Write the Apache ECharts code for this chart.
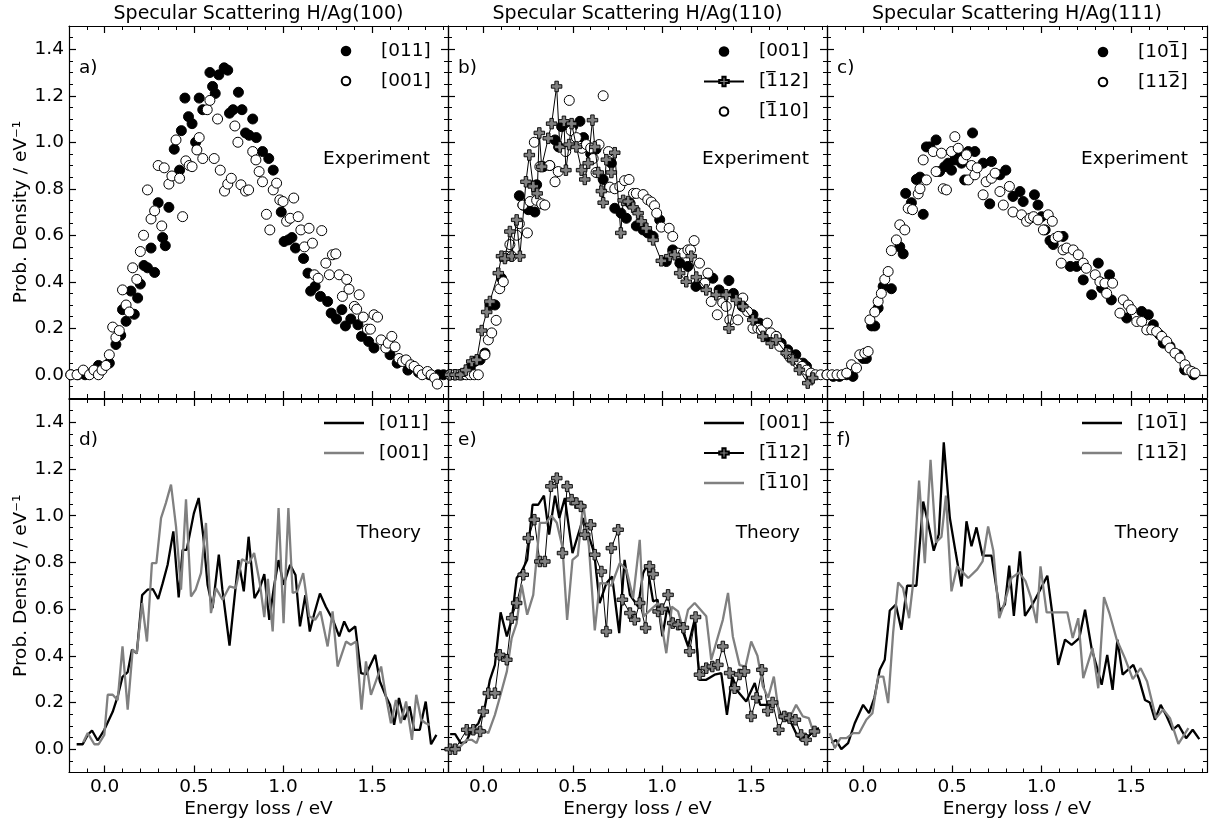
<!DOCTYPE html>
<html><head><meta charset="utf-8">
<script src="https://cdn.jsdelivr.net/npm/echarts@6/dist/echarts.min.js"></script>
<style>html,body{margin:0;padding:0;background:#fff}#c{width:1213px;height:820px}</style>
</head><body><div id="c"></div><script>
// ---------- tick labels / texts ----------
const xMajor = [0, 0.5, 1.0, 1.5];
const yMajor = [0, 0.2, 0.4, 0.6, 0.8, 1.0, 1.2, 1.4];
const panelTitles = ['Specular Scattering H/Ag(100)', 'Specular Scattering H/Ag(110)', 'Specular Scattering H/Ag(111)'];
const panelLabels = ['a)', 'b)', 'c)', 'd)', 'e)', 'f)'];
const yName = 'Prob. Density / eV\u207B\u00B9';
const xName = 'Energy loss / eV';
// legend labels (overlined digits drawn with a zero-width overline fragment)
const OVL = '{ov|\u203E}';
const legendLabels = {
  '[011]': '[011]', '[001]': '[001]',
  '[-112]': '[' + OVL + '112]', '[-110]': '[' + OVL + '110]',
  '[10-1]': '[10' + OVL + '1]', '[11-2]': '[11' + OVL + '2]'
};

// ---------- data: [energy loss, probability density] ----------
const a011 = [[-0.19,0],[-0.15,0],[-0.11,0],[-0.07,0.01],[-0.035,0.04],[0.026,0.05],[0.063,0.13],[0.09,0.17],[0.10,0.28],[0.12,0.23],[0.147,0.36],[0.166,0.26],[0.185,0.33],[0.20,0.39],[0.22,0.47],[0.24,0.46],[0.26,0.545],[0.28,0.44],[0.30,0.74],[0.325,0.59],[0.34,0.555],[0.36,0.72],[0.39,0.97],[0.42,0.88],[0.43,1.05],[0.45,1.19],[0.47,1.11],[0.49,1.08],[0.51,1.0],[0.53,1.19],[0.55,1.14],[0.59,1.30],[0.605,1.24],[0.62,1.21],[0.64,1.29],[0.67,1.32],[0.69,1.31],[0.70,1.125],[0.72,1.14],[0.75,1.215],[0.77,1.14],[0.79,1.04],[0.81,1.03],[0.83,1.10],[0.85,1.02],[0.885,0.96],[0.92,0.93],[0.945,0.88],[0.99,0.70],[1.006,0.573],[1.03,0.58],[1.05,0.59],[1.07,0.545],[1.115,0.50],[1.14,0.437],[1.155,0.36],[1.18,0.38],[1.21,0.337],[1.25,0.315],[1.27,0.265],[1.30,0.24],[1.33,0.28],[1.35,0.21],[1.38,0.24],[1.42,0.215],[1.44,0.165],[1.48,0.143],[1.51,0.115],[1.60,0.086],[1.64,0.05],[1.70,0.02],[1.76,0.01],[1.82,0],[1.87,0],[1.90,0]];
const a001 = [[-0.19,0],[-0.155,0],[-0.12,0.02],[-0.085,0],[-0.06,0.02],[-0.035,0],[-0.015,0.02],[0.007,0.04],[0.026,0.086],[0.045,0.205],[0.063,0.16],[0.082,0.19],[0.10,0.365],[0.12,0.30],[0.138,0.27],[0.157,0.46],[0.18,0.41],[0.20,0.53],[0.218,0.60],[0.24,0.795],[0.26,0.67],[0.28,0.705],[0.30,0.90],[0.32,0.64],[0.334,0.89],[0.36,0.82],[0.377,0.855],[0.40,1.01],[0.42,0.845],[0.437,0.68],[0.455,0.92],[0.474,0.90],[0.49,0.895],[0.517,0.967],[0.53,1.02],[0.55,0.93],[0.575,1.14],[0.59,1.18],[0.614,0.93],[0.633,1.10],[0.648,0.88],[0.672,0.79],[0.69,0.82],[0.71,0.845],[0.73,1.07],[0.747,1.00],[0.764,0.817],[0.79,0.79],[0.807,0.795],[0.83,0.96],[0.848,0.924],[0.866,0.874],[0.885,0.83],[0.907,0.69],[0.926,0.623],[0.945,0.795],[0.964,0.824],[0.982,0.752],[1.0,0.745],[1.02,0.66],[1.04,0.673],[1.06,0.76],[1.085,0.68],[1.10,0.623],[1.12,0.55],[1.146,0.63],[1.165,0.566],[1.176,0.43],[1.197,0.415],[1.217,0.62],[1.24,0.48],[1.26,0.43],[1.277,0.516],[1.296,0.52],[1.315,0.43],[1.333,0.337],[1.357,0.41],[1.37,0.368],[1.40,0.294],[1.413,0.282],[1.427,0.344],[1.45,0.248],[1.473,0.196],[1.49,0.196],[1.51,0.258],[1.53,0.248],[1.55,0.15],[1.576,0.115],[1.59,0.136],[1.61,0.165],[1.628,0.12],[1.65,0.07],[1.67,0.057],[1.69,0.064],[1.716,0.043],[1.735,0.036],[1.76,0.019],[1.78,0],[1.81,0.014],[1.83,0],[1.85,-0.014],[1.865,-0.04]];
const b001 = [[-0.19,0],[-0.16,0],[-0.13,0],[-0.1,0.01],[-0.075,0.03],[-0.05,0.057],[-0.02,0.064],[0.007,0.093],[0.035,0.30],[0.063,0.30],[0.10,0.415],[0.20,0.77],[0.22,0.73],[0.25,0.71],[0.287,0.70],[0.297,0.817],[0.334,0.895],[0.371,0.90],[0.40,1.01],[0.42,0.98],[0.437,1.067],[0.465,1.075],[0.483,1.067],[0.50,1.07],[0.54,1.09],[0.56,1.02],[0.60,0.95],[0.63,0.97],[0.67,0.84],[0.716,0.91],[0.735,0.716],[0.77,0.695],[0.80,0.673],[0.82,0.738],[0.856,0.64],[0.894,0.623],[0.92,0.61],[0.95,0.595],[0.987,0.666],[1.024,0.487],[1.06,0.537],[1.10,0.48],[1.145,0.466],[1.19,0.38],[1.23,0.387],[1.27,0.42],[1.285,0.415],[1.32,0.365],[1.375,0.405],[1.40,0.35],[1.45,0.294],[1.51,0.258],[1.547,0.222],[1.59,0.165],[1.64,0.165],[1.668,0.136],[1.705,0.107],[1.75,0.086],[1.79,0.05],[1.81,0.036],[1.835,0]];
const b112 = [[-0.19,0],[-0.16,0],[-0.13,0],[-0.1,0.02],[-0.067,0.057],[-0.039,0.064],[-0.011,0.19],[0.017,0.27],[0.035,0.315],[0.082,0.437],[0.10,0.51],[0.119,0.50],[0.147,0.616],[0.157,0.51],[0.185,0.666],[0.203,0.51],[0.237,0.83],[0.256,0.945],[0.278,0.81],[0.30,0.78],[0.312,1.04],[0.325,0.895],[0.362,1.017],[0.381,1.08],[0.409,1.24],[0.427,0.98],[0.45,1.09],[0.461,0.88],[0.479,0.99],[0.493,1.08],[0.52,0.98],[0.549,0.88],[0.567,0.84],[0.586,0.91],[0.61,1.095],[0.623,0.98],[0.642,0.87],[0.66,0.79],[0.67,0.74],[0.688,0.925],[0.716,0.87],[0.735,0.955],[0.769,0.61],[0.782,0.75],[0.81,0.745],[0.838,0.72],[0.866,0.695],[0.884,0.66],[0.912,0.63],[0.95,0.58],[0.996,0.49],[1.043,0.51],[1.071,0.516],[1.099,0.437],[1.136,0.40],[1.164,0.51],[1.192,0.42],[1.248,0.365],[1.304,0.344],[1.36,0.344],[1.375,0.20],[1.416,0.322],[1.453,0.294],[1.509,0.236],[1.565,0.165],[1.612,0.136],[1.64,0.15],[1.696,0.093],[1.733,0.064],[1.77,0.021],[1.817,-0.036],[1.845,-0.014]];
const b110 = [[-0.188,0],[-0.165,0],[-0.142,0],[-0.12,0],[-0.097,0],[-0.075,0],[-0.052,0],[-0.03,0],[0.007,0.086],[0.026,0.15],[0.045,0.18],[0.07,0.234],[0.09,0.37],[0.11,0.40],[0.125,0.51],[0.147,0.56],[0.157,0.51],[0.185,0.60],[0.20,0.65],[0.22,0.73],[0.245,0.61],[0.26,0.745],[0.284,1.0],[0.297,0.75],[0.315,0.895],[0.325,0.735],[0.343,0.73],[0.37,0.90],[0.40,0.83],[0.418,0.874],[0.46,0.96],[0.48,1.18],[0.49,1.05],[0.52,1.02],[0.55,0.974],[0.576,0.99],[0.60,0.975],[0.614,0.93],[0.63,0.87],[0.647,0.99],[0.67,1.20],[0.70,0.96],[0.707,0.807],[0.735,0.80],[0.763,0.81],[0.79,0.835],[0.815,0.84],[0.84,0.78],[0.856,0.78],[0.894,0.775],[0.92,0.753],[0.94,0.743],[0.958,0.727],[0.97,0.695],[0.996,0.635],[1.04,0.63],[1.06,0.595],[1.09,0.523],[1.12,0.523],[1.145,0.537],[1.16,0.537],[1.18,0.577],[1.21,0.48],[1.24,0.394],[1.257,0.437],[1.276,0.315],[1.31,0.258],[1.34,0.31],[1.36,0.294],[1.38,0.236],[1.425,0.236],[1.453,0.33],[1.48,0.272],[1.51,0.2],[1.537,0.2],[1.556,0.193],[1.59,0.222],[1.61,0.18],[1.64,0.165],[1.66,0.122],[1.70,0.093],[1.72,0.072],[1.76,0.05],[1.785,0.036],[1.81,0.02],[1.835,0.007],[1.86,0],[1.89,0]];
const c101 = [[-0.2,0],[-0.165,-0.007],[-0.13,-0.007],[-0.09,0],[-0.055,-0.007],[0.002,0.07],[0.02,0.07],[0.05,0.21],[0.067,0.21],[0.086,0.287],[0.114,0.38],[0.16,0.37],[0.207,0.55],[0.226,0.52],[0.24,0.78],[0.272,0.74],[0.30,0.84],[0.32,0.85],[0.338,0.69],[0.356,0.98],[0.375,0.98],[0.41,1.01],[0.43,0.874],[0.458,0.895],[0.478,0.91],[0.496,0.88],[0.515,0.924],[0.534,0.94],[0.552,0.91],[0.57,0.838],[0.59,0.96],[0.614,1.04],[0.627,0.96],[0.673,0.91],[0.71,0.735],[0.72,0.917],[0.767,0.86],[0.80,0.88],[0.84,0.767],[0.879,0.788],[0.897,0.745],[0.96,0.774],[0.98,0.73],[1.0,0.68],[1.02,0.623],[1.047,0.577],[1.065,0.56],[1.12,0.595],[1.16,0.466],[1.196,0.466],[1.233,0.408],[1.28,0.344],[1.317,0.48],[1.336,0.373],[1.38,0.43],[1.39,0.322],[1.476,0.244],[1.56,0.272],[1.597,0.258],[1.625,0.215],[1.66,0.172],[1.68,0.136],[1.718,0.122],[1.765,0.086],[1.80,0.021],[1.85,0]];
const c112 = [[-0.2,0],[-0.172,0],[-0.144,0],[-0.116,0],[-0.09,0.007],[-0.063,0.043],[-0.035,0.029],[-0.017,0.086],[0.011,0.093],[0.03,0.10],[0.04,0.236],[0.067,0.27],[0.086,0.315],[0.104,0.35],[0.123,0.41],[0.142,0.444],[0.16,0.534],[0.188,0.58],[0.207,0.645],[0.235,0.623],[0.254,0.716],[0.278,0.71],[0.31,0.778],[0.32,0.80],[0.338,0.924],[0.356,0.838],[0.394,0.96],[0.41,0.874],[0.44,0.953],[0.45,0.80],[0.468,0.795],[0.496,0.96],[0.515,1.024],[0.534,0.974],[0.56,0.924],[0.58,0.946],[0.59,0.838],[0.608,0.90],[0.627,0.86],[0.64,0.89],[0.673,0.774],[0.69,0.83],[0.72,0.845],[0.74,0.867],[0.767,0.788],[0.786,0.73],[0.82,0.81],[0.84,0.70],[0.888,0.688],[0.916,0.66],[0.935,0.673],[0.955,0.68],[0.98,0.666],[1.01,0.623],[1.037,0.688],[1.06,0.66],[1.075,0.587],[1.093,0.595],[1.11,0.48],[1.12,0.537],[1.14,0.545],[1.177,0.537],[1.205,0.516],[1.233,0.48],[1.25,0.458],[1.30,0.43],[1.326,0.40],[1.354,0.394],[1.364,0.35],[1.397,0.394],[1.438,0.265],[1.457,0.322],[1.485,0.30],[1.503,0.28],[1.532,0.229],[1.56,0.229],[1.588,0.193],[1.616,0.193],[1.643,0.186],[1.672,0.165],[1.70,0.143],[1.718,0.115],[1.746,0.093],[1.774,0.072],[1.802,0.043],[1.82,0.021],[1.84,0.014],[1.858,0.007]];
const d011 = [[-0.157,0.021],[-0.123,0.021],[-0.095,0.061],[-0.071,0.08],[-0.039,0.037],[-0.002,0.083],[0.045,0.16],[0.073,0.226],[0.10,0.31],[0.129,0.33],[0.153,0.426],[0.18,0.41],[0.21,0.66],[0.24,0.683],[0.27,0.686],[0.30,0.643],[0.325,0.71],[0.353,0.79],[0.385,0.933],[0.415,0.65],[0.437,0.854],[0.46,0.854],[0.50,1.01],[0.527,1.076],[0.553,0.911],[0.577,0.704],[0.605,0.604],[0.64,0.833],[0.66,0.683],[0.70,0.444],[0.75,0.81],[0.78,0.676],[0.807,0.91],[0.84,0.647],[0.867,0.683],[0.895,0.75],[0.923,0.554],[0.95,0.70],[0.975,0.81],[1.003,0.704],[1.04,0.79],[1.07,0.746],[1.095,0.526],[1.125,0.66],[1.15,0.504],[1.175,0.58],[1.207,0.667],[1.24,0.61],[1.28,0.554],[1.315,0.483],[1.343,0.547],[1.37,0.504],[1.405,0.526],[1.437,0.326],[1.465,0.32],[1.517,0.404],[1.543,0.29],[1.577,0.226],[1.60,0.19],[1.623,0.104],[1.65,0.219],[1.68,0.126],[1.71,0.183],[1.735,0.083],[1.767,0.083],[1.80,0.204],[1.83,0.021],[1.86,0.061]];
const d001 = [[-0.12,0.03],[-0.095,0.069],[-0.058,0.021],[-0.034,0.021],[-0.002,0.061],[0.017,0.233],[0.045,0.233],[0.073,0.21],[0.10,0.44],[0.129,0.169],[0.157,0.426],[0.18,0.41],[0.21,0.626],[0.237,0.461],[0.265,0.797],[0.29,0.797],[0.316,0.99],[0.343,1.054],[0.372,1.133],[0.40,0.954],[0.428,0.683],[0.456,1.07],[0.484,0.654],[0.51,0.683],[0.54,0.754],[0.568,0.969],[0.596,0.583],[0.624,0.69],[0.661,0.64],[0.70,0.697],[0.735,0.69],[0.77,0.814],[0.81,0.797],[0.838,0.84],[0.87,0.711],[0.895,0.566],[0.915,0.73],[0.942,0.504],[0.975,1.033],[1.003,0.54],[1.03,1.033],[1.054,0.669],[1.08,0.676],[1.113,0.754],[1.147,0.569],[1.18,0.554],[1.21,0.59],[1.25,0.44],[1.278,0.59],[1.306,0.354],[1.353,0.461],[1.38,0.447],[1.41,0.461],[1.44,0.169],[1.465,0.376],[1.493,0.233],[1.55,0.354],[1.577,0.226],[1.605,0.111],[1.633,0.211],[1.66,0.111],[1.69,0.204],[1.723,0.04],[1.747,0.233],[1.775,0.126],[1.80,0.111],[1.823,0.104]];
const e001 = [[-0.188,0.064],[-0.16,0.064],[-0.14,0.04],[-0.13,0.026],[-0.1,0.03],[-0.067,0.083],[-0.03,0.11],[0.007,0.183],[0.035,0.297],[0.063,0.361],[0.095,0.586],[0.13,0.483],[0.157,0.554],[0.185,0.733],[0.213,0.761],[0.244,0.811],[0.274,1.047],[0.306,1.047],[0.338,1.086],[0.367,0.919],[0.40,1.086],[0.424,0.99],[0.455,1.076],[0.498,0.84],[0.558,0.99],[0.595,0.90],[0.62,0.84],[0.65,0.626],[0.688,0.711],[0.72,0.74],[0.76,0.497],[0.79,0.811],[0.82,0.661],[0.866,0.611],[0.894,0.754],[0.916,0.79],[0.95,0.633],[0.975,0.64],[1.002,0.483],[1.03,0.61],[1.06,0.54],[1.10,0.54],[1.146,0.44],[1.183,0.554],[1.21,0.297],[1.248,0.297],[1.295,0.319],[1.332,0.326],[1.364,0.147],[1.394,0.311],[1.425,0.247],[1.472,0.204],[1.52,0.283],[1.55,0.19],[1.593,0.19],[1.64,0.20],[1.677,0.126],[1.72,0.12],[1.76,0.054],[1.81,0.047],[1.855,0.083],[1.88,0.09]];
const e112 = [[-0.188,0],[-0.16,0],[-0.095,0.083],[-0.058,0.083],[-0.02,0.076],[-0.002,0.161],[0.026,0.24],[0.063,0.24],[0.09,0.404],[0.13,0.383],[0.157,0.561],[0.185,0.626],[0.222,0.747],[0.25,0.904],[0.284,0.983],[0.315,0.804],[0.343,0.804],[0.377,1.126],[0.41,1.161],[0.442,0.84],[0.468,1.126],[0.493,1.069],[0.52,1.054],[0.545,1.04],[0.567,0.919],[0.60,0.961],[0.623,0.833],[0.66,0.761],[0.688,0.504],[0.716,0.861],[0.754,0.94],[0.778,0.64],[0.82,0.583],[0.847,0.554],[0.875,0.626],[0.908,0.519],[0.93,0.783],[0.95,0.75],[0.978,0.59],[1.0,0.60],[1.034,0.661],[1.06,0.54],[1.09,0.533],[1.12,0.52],[1.155,0.419],[1.188,0.566],[1.21,0.319],[1.248,0.347],[1.282,0.354],[1.313,0.361],[1.341,0.44],[1.379,0.326],[1.407,0.261],[1.435,0.32],[1.463,0.333],[1.50,0.14],[1.53,0.22],[1.56,0.34],[1.593,0.164],[1.62,0.20],[1.655,0.083],[1.685,0.14],[1.715,0.133],[1.748,0.126],[1.78,0.061],[1.808,0.04],[1.855,0.076]];
const e110 = [[-0.188,0.011],[-0.13,0.011],[-0.095,0.04],[-0.067,0.04],[-0.04,0.026],[-0.011,0.086],[0.026,0.069],[0.063,0.147],[0.09,0.22],[0.13,0.333],[0.157,0.476],[0.185,0.54],[0.213,0.704],[0.244,0.576],[0.278,0.661],[0.315,0.969],[0.349,0.969],[0.38,1.0],[0.41,0.97],[0.442,0.864],[0.468,0.554],[0.498,0.811],[0.528,0.83],[0.558,1.054],[0.59,0.87],[0.623,0.509],[0.651,0.711],[0.685,0.71],[0.716,0.70],[0.763,0.797],[0.80,0.77],[0.838,0.647],[0.875,0.897],[0.897,0.569],[0.94,0.60],[0.978,0.626],[1.024,0.411],[1.055,0.61],[1.09,0.59],[1.12,0.51],[1.146,0.597],[1.183,0.626],[1.248,0.569],[1.276,0.383],[1.341,0.554],[1.37,0.669],[1.397,0.483],[1.435,0.36],[1.468,0.354],[1.50,0.461],[1.535,0.40],[1.565,0.269],[1.595,0.22],[1.627,0.311],[1.66,0.13],[1.692,0.161],[1.72,0.14],[1.752,0.19],[1.79,0.14],[1.823,0.133],[1.845,0.083]];
const f101 = [[-0.175,0.026],[-0.15,0.04],[-0.12,0],[-0.082,0.026],[-0.045,0.111],[0.002,0.19],[0.035,0.154],[0.065,0.22],[0.095,0.34],[0.123,0.383],[0.151,0.594],[0.185,0.619],[0.216,0.511],[0.248,0.70],[0.30,0.70],[0.338,1.061],[0.365,0.97],[0.397,0.85],[0.425,0.92],[0.453,1.314],[0.487,0.99],[0.52,0.84],[0.552,0.697],[0.58,0.976],[0.608,0.869],[0.636,0.95],[0.67,0.829],[0.72,0.829],[0.767,0.59],[0.795,0.62],[0.819,0.786],[0.845,0.571],[0.879,0.847],[0.907,0.571],[0.953,0.626],[0.99,0.68],[1.032,0.743],[1.06,0.58],[1.093,0.361],[1.131,0.469],[1.168,0.447],[1.211,0.476],[1.243,0.597],[1.28,0.43],[1.31,0.35],[1.336,0.276],[1.367,0.404],[1.397,0.254],[1.424,0.469],[1.453,0.319],[1.513,0.361],[1.545,0.30],[1.578,0.211],[1.605,0.20],[1.634,0.126],[1.666,0.19],[1.70,0.14],[1.733,0.083],[1.765,0.104],[1.808,0.047],[1.845,0.083],[1.882,0.043]];
const f112 = [[-0.185,0.069],[-0.157,0.004],[-0.125,0.047],[-0.091,0.047],[-0.054,0.069],[-0.02,0.069],[0.02,0.126],[0.054,0.154],[0.086,0.311],[0.115,0.311],[0.142,0.197],[0.17,0.50],[0.198,0.714],[0.225,0.69],[0.259,0.561],[0.28,0.70],[0.315,1.151],[0.347,0.797],[0.379,1.239],[0.409,0.886],[0.44,0.909],[0.465,1.086],[0.496,0.676],[0.528,0.783],[0.59,0.733],[0.64,0.77],[0.67,0.804],[0.701,0.954],[0.73,0.85],[0.763,0.561],[0.79,0.62],[0.832,0.733],[0.875,0.757],[0.91,0.72],[0.94,0.65],[0.972,0.54],[0.994,0.783],[1.028,0.586],[1.144,0.586],[1.174,0.476],[1.205,0.561],[1.233,0.304],[1.285,0.433],[1.317,0.261],[1.349,0.651],[1.379,0.583],[1.42,0.47],[1.466,0.39],[1.51,0.30],[1.554,0.347],[1.59,0.29],[1.64,0.133],[1.68,0.17],[1.718,0.133],[1.765,0.023],[1.821,0.09]];

// ---------- layout ----------
const FONT = 'DejaVu Sans';
const FS = 18.5;
const X_MIN = -0.2, X_MAX = 1.925, Y_MIN = -0.1, Y_MAX = 1.5;
const grids = [
  {left: 69, top: 26, width: 379, height: 372},
  {left: 448, top: 26, width: 379, height: 372},
  {left: 827, top: 26, width: 380, height: 372},
  {left: 69, top: 399, width: 379, height: 373.5},
  {left: 448, top: 399, width: 379, height: 373.5},
  {left: 827, top: 399, width: 380, height: 373.5}
];
const black = '#000', gray = '#808080';
const PLUS = 'path://M-1,-3H1V-1H3V1H1V3H-1V1H-3V-1H-1Z';
// legend icons: small circle centred in a 12x12 box, and a thick line segment
const CIRCLE_ICON = 'path://M0,0M12,12M6,1.7A4.3,4.3,0,1,1,6,10.3A4.3,4.3,0,1,1,6,1.7Z';
const LINE_ICON = 'path://M0,0H40V2.4H0Z';
const lineS = {color: black, width: 1.2};

const xAxes = [], yAxes = [];
grids.forEach((g, i) => {
  const bottomRow = i >= 3, leftCol = i % 3 === 0;
  const txt = {fontSize: FS, color: black, fontFamily: FONT};
  ['bottom', 'top'].forEach(pos => {
    xAxes.push({type: 'value', gridIndex: i, position: pos, min: X_MIN, max: X_MAX,
      axisLine: {show: true, onZero: false, lineStyle: lineS},
      axisTick: {show: true, inside: true, length: 7, customValues: xMajor, lineStyle: lineS},
      axisLabel: {show: pos === 'bottom' && bottomRow, customValues: xMajor, margin: 5,
        formatter: v => v.toFixed(1), ...txt},
      splitLine: {show: false},
      name: (pos === 'bottom' && bottomRow) ? xName : '', nameLocation: 'middle', nameGap: 27,
      nameTextStyle: txt});
    xAxes.push({type: 'value', gridIndex: i, position: pos, min: X_MIN, max: X_MAX, interval: 0.1,
      axisLine: {show: false, onZero: false}, axisTick: {show: true, inside: true, length: 4, lineStyle: {color: black, width: 1}},
      axisLabel: {show: false}, splitLine: {show: false}});
  });
  ['left', 'right'].forEach(pos => {
    yAxes.push({type: 'value', gridIndex: i, position: pos, min: Y_MIN, max: Y_MAX,
      axisLine: {show: true, onZero: false, lineStyle: lineS},
      axisTick: {show: true, inside: true, length: 7, customValues: yMajor, lineStyle: lineS},
      axisLabel: {show: pos === 'left' && leftCol, customValues: yMajor, margin: 5,
        formatter: v => v.toFixed(1), ...txt},
      splitLine: {show: false},
      name: (pos === 'left' && leftCol) ? yName : '', nameLocation: 'middle', nameGap: 32,
      nameTextStyle: txt});
    yAxes.push({type: 'value', gridIndex: i, position: pos, min: Y_MIN, max: Y_MAX, interval: 0.05,
      axisLine: {show: false, onZero: false}, axisTick: {show: true, inside: true, length: 4, lineStyle: {color: black, width: 1}},
      axisLabel: {show: false}, splitLine: {show: false}});
  });
});
// xAxis/yAxis index of the main bottom/left axis for grid g is 4*g

const filled = (name, data, g) => ({type: 'scatter', name, data, xAxisIndex: 4 * g, yAxisIndex: 4 * g,
  symbol: 'circle', symbolSize: 10, itemStyle: {color: black, borderColor: black, borderWidth: 1, opacity: 1}});
const open = (name, data, g) => ({type: 'scatter', name, data, xAxisIndex: 4 * g, yAxisIndex: 4 * g,
  symbol: 'circle', symbolSize: 10, itemStyle: {color: '#fff', borderColor: black, borderWidth: 1, opacity: 1}});
const plusLine = (name, data, g) => ({type: 'line', name, data, xAxisIndex: 4 * g, yAxisIndex: 4 * g,
  symbol: PLUS, symbolSize: 10.5, showSymbol: true, lineStyle: {color: black, width: 1},
  itemStyle: {color: gray, borderColor: black, borderWidth: 0.9}});
const thLine = (name, data, g, color) => ({type: 'line', name, data, xAxisIndex: 4 * g, yAxisIndex: 4 * g,
  symbol: 'none', lineStyle: {color, width: 2.3}, itemStyle: {color}});

// series names carry a panel prefix "x|" so each panel's legend is independent
const series = [
  filled('a|[011]', a011, 0), open('a|[001]', a001, 0),
  filled('b|[001]', b001, 1), plusLine('b|[-112]', b112, 1), open('b|[-110]', b110, 1),
  filled('c|[10-1]', c101, 2), open('c|[11-2]', c112, 2),
  thLine('d|[011]', d011, 3, black), thLine('d|[001]', d001, 3, gray),
  thLine('e|[001]', e001, 4, black), plusLine('e|[-112]', e112, 4), thLine('e|[-110]', e110, 4, gray),
  thLine('f|[10-1]', f101, 5, black), thLine('f|[11-2]', f112, 5, gray)
];

const legendBase = {orient: 'vertical', itemWidth: 40, itemHeight: 12, itemGap: 5, padding: 0, selectedMode: false,
  formatter: n => legendLabels[n.split('|')[1]],
  textStyle: {fontSize: FS, color: black, fontFamily: FONT, lineHeight: 25, padding: [0, 0, 0, 10],
    rich: {ov: {width: 0, fontSize: FS, fontFamily: FONT, color: black, lineHeight: 20, padding: [0, 0, 5, 0]}}}};
const legPos = [[339, 38.5, 'a'], [703, 39, 'b'], [1096, 39.5, 'c'], [324, 410.5, 'd'], [703, 410.5, 'e'], [1082, 410.5, 'f']];
const legends = legPos.map(([l, t, p]) => Object.assign({}, legendBase, {left: l, top: t,
  data: series.filter(s => s.name.startsWith(p + '|')).map(s => {
    if (s.type === 'scatter') return {name: s.name, icon: CIRCLE_ICON};
    if (s.symbol === 'none') return {name: s.name, icon: LINE_ICON};
    return {name: s.name};
  })}));

const tStyle = {fontSize: FS, fontWeight: 'normal', color: black, fontFamily: FONT};
const titles = [];
panelTitles.forEach((t, i) => titles.push({text: t, left: grids[i].left + grids[i].width / 2, top: 5, textAlign: 'center', padding: 0,
  textStyle: Object.assign({}, tStyle, {fontSize: 19})}));
panelLabels.forEach((t, i) => titles.push({text: t, left: grids[i].left + 10, top: i < 3 ? 59 : 431, padding: 0, textStyle: tStyle}));
[[430, 150, 'Experiment'], [809, 150, 'Experiment'], [1188, 150, 'Experiment'],
 [421, 524, 'Theory'], [800, 524, 'Theory'], [1179, 524, 'Theory']].forEach(([r, t, s]) =>
  titles.push({text: s, left: r, top: t, textAlign: 'right', padding: 0, textStyle: tStyle}));

const chart = echarts.init(document.getElementById('c'), null, {renderer: 'canvas'});
chart.setOption({animation: false, backgroundColor: '#fff', grid: grids, xAxis: xAxes, yAxis: yAxes,
  series, legend: legends, title: titles, tooltip: {show: false}});
</script></body></html>
